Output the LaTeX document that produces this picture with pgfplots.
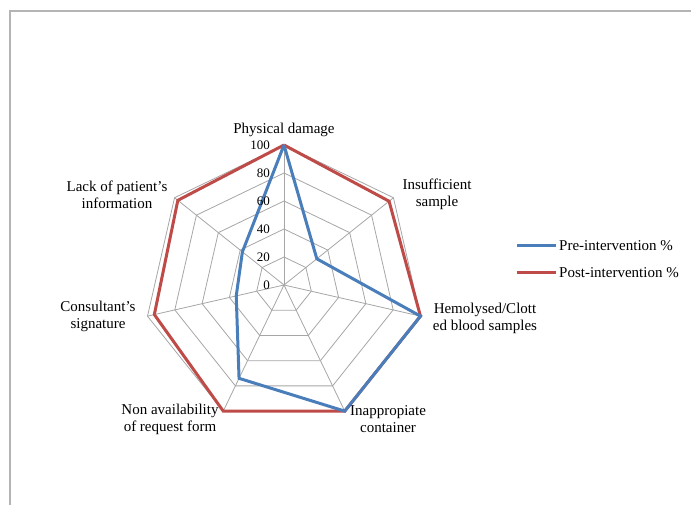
\documentclass[border=0pt]{standalone}
\usepackage{pgfplots}
\pgfplotsset{compat=1.18}
\usepackage{pgfplotstable}
\usepackage{fontspec}
\setmainfont{Liberation Serif}
\definecolor{preblue}{HTML}{4A7EBB}
\definecolor{postred}{HTML}{BE4B48}
\definecolor{gridc}{HTML}{A6A6A6}
\definecolor{framec}{HTML}{B4B4B4}

% angle (deg, polar), pre-intervention %, post-intervention %
\pgfplotstableread{
ang pre post
90 100 100
38.5714 30 96
-12.8571 100 100
-64.2857 100 100
-115.7143 74 100
-167.1429 35 95
-218.5714 38 97
90 100 100
}\radar

\begin{document}
\begin{tikzpicture}
\begin{axis}[anchor=origin, at={(0pt,0pt)}, x=1.4pt, y=1.4pt,
  xmin=-105, xmax=105, ymin=-105, ymax=105,
  hide axis, clip=false]
  % grid rings
  \pgfplotsinvokeforeach{20,40,60,80,100}{
    \addplot[gridc, line width=0.8pt, data cs=polar, forget plot] table[x=ang, y expr=#1] {\radar};
  }
  % spokes
  \pgfplotsinvokeforeach{90,38.5714,-12.8571,-64.2857,-115.7143,-167.1429,-218.5714}{
    \addplot[gridc, line width=0.8pt, data cs=polar, forget plot] coordinates {(#1,0) (#1,100)};
  }
  \addplot[postred, line width=3pt, line join=miter, data cs=polar] table[x=ang, y=post] {\radar};
  \addplot[preblue, line width=3pt, line join=miter, miter limit=3, data cs=polar] table[x=ang, y=pre] {\radar};
\end{axis}

% radial tick labels
\begin{scope}[every node/.style={anchor=east, inner sep=0pt, font=\fontsize{13}{13}\selectfont}]
  \node at (-14pt,0pt) {0};
  \node at (-14pt,28pt) {20};
  \node at (-14pt,56pt) {40};
  \node at (-14pt,84pt) {60};
  \node at (-14pt,112pt) {80};
  \node at (-14pt,140pt) {100};
\end{scope}

% category labels
\begin{scope}[every node/.style={align=center, inner sep=0pt, font=\fontsize{15}{17}\selectfont}]
  \node at (0pt,155pt) {Physical damage};
  \node at (153pt,90.5pt) {Insufficient\\sample};
  \node at (201pt,-33pt) {Hemolysed/Clott\\ed blood samples};
  \node at (104pt,-134pt) {Inappropiate\\container};
  \node at (-114pt,-134pt) {Non availability\\of request form};
  \node at (-186pt,-31.5pt) {Consultant's\\signature};
  \node at (-167pt,90.5pt) {Lack of patient's\\information};
\end{scope}

% legend
\draw[preblue, line width=3pt] (233pt,39pt) -- (272pt,39pt);
\node[anchor=west, inner sep=0pt, font=\fontsize{15}{17}\selectfont] at (275pt,39pt) {Pre-intervention \%};
\draw[postred, line width=3pt] (233pt,12pt) -- (272pt,12pt);
\node[anchor=west, inner sep=0pt, font=\fontsize{15}{17}\selectfont] at (275pt,12pt) {Post-intervention \%};

% frame
\draw[framec, line width=1.5pt] (-274pt,-230pt) -- (-274pt,274pt) -- (420pt,274pt);

\pgfresetboundingbox
\useasboundingbox (-284pt,-220pt) rectangle (407pt,285pt);
\end{tikzpicture}
\end{document}
